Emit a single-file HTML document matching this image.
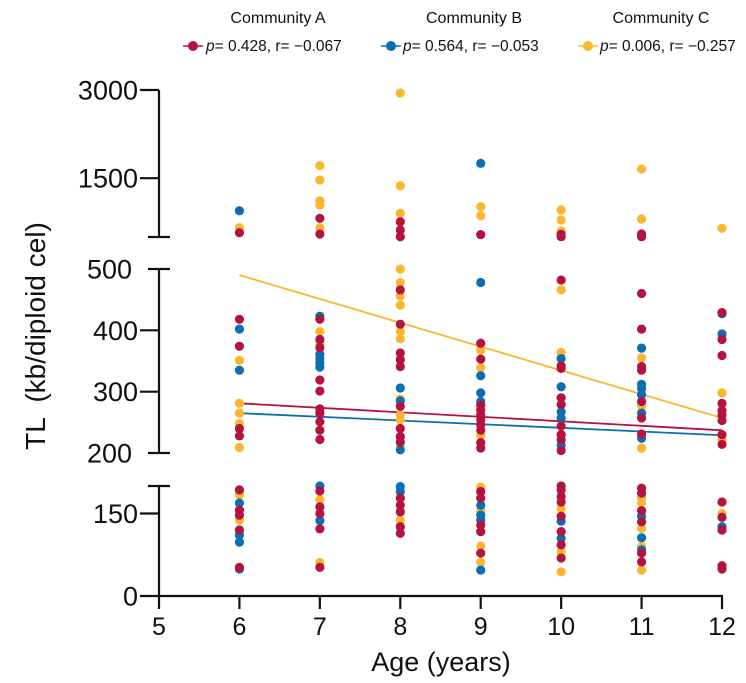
<!DOCTYPE html>
<html><head><meta charset="utf-8">
<style>
html,body{margin:0;padding:0;background:#fff;}
svg{display:block;font-family:"Liberation Sans",Arial,sans-serif;}
</style></head>
<body>
<svg id="chart" width="746" height="683" viewBox="0 0 746 683" xmlns="http://www.w3.org/2000/svg">
  <g fill="#111">
    <text x="278" y="23" text-anchor="middle" font-size="16">Community A</text>
    <text x="474" y="23" text-anchor="middle" font-size="16">Community B</text>
    <text x="661" y="23" text-anchor="middle" font-size="16">Community C</text>
    <g font-size="15.5">
      <line x1="183" y1="46" x2="203" y2="46" stroke="#b5123f" stroke-width="1.5"/>
      <circle cx="193" cy="46" r="5" fill="#b5123f"/>
      <text x="206" y="51"><tspan font-style="italic">p</tspan>= 0.428, r= −0.067</text>
    </g>
    <g font-size="15.5">
      <line x1="381" y1="46" x2="401" y2="46" stroke="#0a6eb4" stroke-width="1.5"/>
      <circle cx="391" cy="46" r="5" fill="#0a6eb4"/>
      <text x="403" y="51"><tspan font-style="italic">p</tspan>= 0.564, r= −0.053</text>
    </g>
    <g font-size="15.5">
      <line x1="578" y1="46" x2="598" y2="46" stroke="#fbb62d" stroke-width="1.5"/>
      <circle cx="588" cy="46" r="5" fill="#fbb62d"/>
      <text x="600" y="51"><tspan font-style="italic">p</tspan>= 0.006, r= −0.257</text>
    </g>
  </g>
  <g id="axes"></g>
  <g id="fits"></g>
  <g id="points"></g>
  <text transform="translate(45,336) rotate(-90)" text-anchor="middle" font-size="28" fill="#111" xml:space="preserve">TL  (kb/diploid cel)</text>
  <text x="441" y="671" text-anchor="middle" font-size="27" fill="#111">Age (years)</text>
</svg>
<script>
const xTicks = [5,6,7,8,9,10,11,12];
const yTickLabels = [3000,1500,500,400,300,200,150,0];

const ageA = [6,6,6,6,6,6,6,6,6,6,
 7,7,7,7,7,7,7,7,7,7,7,7,7,7,7,7,7,
 8,8,8,8,8,8,8,8,8,8,8,8,8,8,8,8,8,
 9,9,9,9,9,9,9,9,9,9,9,9,9,9,9,9,
 10,10,10,10,10,10,10,10,10,10,10,10,10,10,10,10,10,10,10,
 11,11,11,11,11,11,11,11,11,11,11,11,11,11,11,
 12,12,12,12,12,12,12,12,12,12,12,12,12,12];
const tlA = [573,418,374,240,228,193,156,147,120,52,
 818,551,418,385,372,319,301,272,265,251,237,222,191,162,150,122,52,
 760,619,505,466,410,363,352,341,276,240,227,218,178,165,153,126,114,
 540,379,353,278,270,262,254,246,237,217,208,190,178,129,117,78,
 546,505,482,342,338,290,279,244,230,222,204,200,193,181,171,145,117,93,69,
 551,505,460,402,341,335,284,257,231,196,187,155,135,78,62,
 429,385,359,281,269,262,253,230,214,171,143,120,55,49];

const ageB = [6,6,6,6,6,6,6,
 7,7,7,7,7,7,7,
 8,8,8,8,8,
 9,9,9,9,9,9,9,9,9,
 10,10,10,10,10,10,10,
 11,11,11,11,11,11,11,11,11,
 12,12,12];
const tlB = [947,402,335,169,111,98,49,
 423,361,354,347,340,200,137,
 306,285,205,199,190,
 1753,478,326,298,284,165,147,138,47,
 354,308,267,257,213,136,105,
 371,312,305,295,265,224,145,106,84,
 427,394,126];

const ageC = [6,6,6,6,6,6,6,6,
 7,7,7,7,7,7,7,7,7,
 8,8,8,8,8,8,8,8,8,8,8,8,8,8,
 9,9,9,9,9,9,9,9,9,
 10,10,10,10,10,10,10,10,
 11,11,11,11,11,11,11,11,11,11,
 12,12,12,12];
const tlC = [658,351,281,265,248,209,184,138,
 1713,1469,1117,1044,658,398,379,175,61,
 2950,1372,903,500,478,456,441,398,386,288,262,254,213,138,
 1015,862,368,339,229,198,155,91,61,
 959,789,602,466,364,159,81,44,
 1656,806,355,276,208,178,169,123,90,47,
 648,298,222,150];

const fitAges = [6,12];
const fitA = [281,237];
const fitB = [265,229];
const fitC = [490,257];

const NS = "http://www.w3.org/2000/svg";
function xs(a){ return 159 + (a-5)*80.43; }
function ys(v){
  if (v <= 200) return 596 - v*0.55;
  if (v <= 500) return 453 - (v-200)*(184/300);
  return 237 - (v-500)*(147/2500);
}
function mk(tag, attrs, parent){
  const el = document.createElementNS(NS, tag);
  for (const k in attrs) el.setAttribute(k, attrs[k]);
  parent.appendChild(el);
  return el;
}
const axes = document.getElementById('axes');
const stroke = {stroke:'#111','stroke-width':2.2,fill:'none'};
function seg(x1,y1,x2,y2,name){
  const l = mk('line', Object.assign({x1,y1,x2,y2}, stroke), axes);
  
  
}
seg(159, 90, 159, 237, 'y-axis-segment-top');
seg(148, 237, 170, 237, 'y-axis-break-cap');
seg(159, 269, 159, 453, 'y-axis-segment-middle');
seg(148, 269, 170, 269, 'y-axis-break-cap');
seg(148, 453, 170, 453, 'y-axis-break-cap');
seg(159, 486, 159, 596, 'y-axis-segment-bottom');
seg(148, 486, 170, 486, 'y-axis-break-cap');
seg(158, 596, 723, 596, 'x-axis-line');
yTickLabels.forEach(v=>{
  const y = (v===500)?269:(v===200?453:ys(v));
  if (v!==500 && v!==200) seg(140, y, 159, y, 'y-tick');
  const t = mk('text', {x:138 - (v===500||v===200?6:0), y:y+9.5, 'text-anchor':'end','font-size':27, fill:'#111'}, axes);
  
  
  t.textContent = v;
});
xTicks.forEach(a=>{
  const x = xs(a);
  seg(x, 596, x, 609, 'x-tick');
  const t = mk('text', {x:x, y:635, 'text-anchor':'middle','font-size':25, fill:'#111'}, axes);
  
  
  t.textContent = a;
});
const fits = document.getElementById('fits');
[[fitC,'#fbb62d','fit-line-community-c'],[fitA,'#b5123f','fit-line-community-a'],[fitB,'#0a6eb4','fit-line-community-b']].forEach(([f,c,n])=>{
  const l = mk('line', {x1:xs(fitAges[0]), y1:ys(f[0]), x2:xs(fitAges[1]), y2:ys(f[1]), stroke:c, 'stroke-width':1.8}, fits);
  
  
});
const pts = document.getElementById('points');
[[ageC,tlC,'#fbb62d','point-community-c'],[ageB,tlB,'#0a6eb4','point-community-b'],[ageA,tlA,'#b5123f','point-community-a']].forEach(([ag,tl,c,n])=>{
  for (let i=0;i<ag.length;i++){
    const p = mk('circle', {cx:xs(ag[i]), cy:ys(tl[i]), r:4.6, fill:c}, pts);
    
    
  }
});
</script>
</body></html>
